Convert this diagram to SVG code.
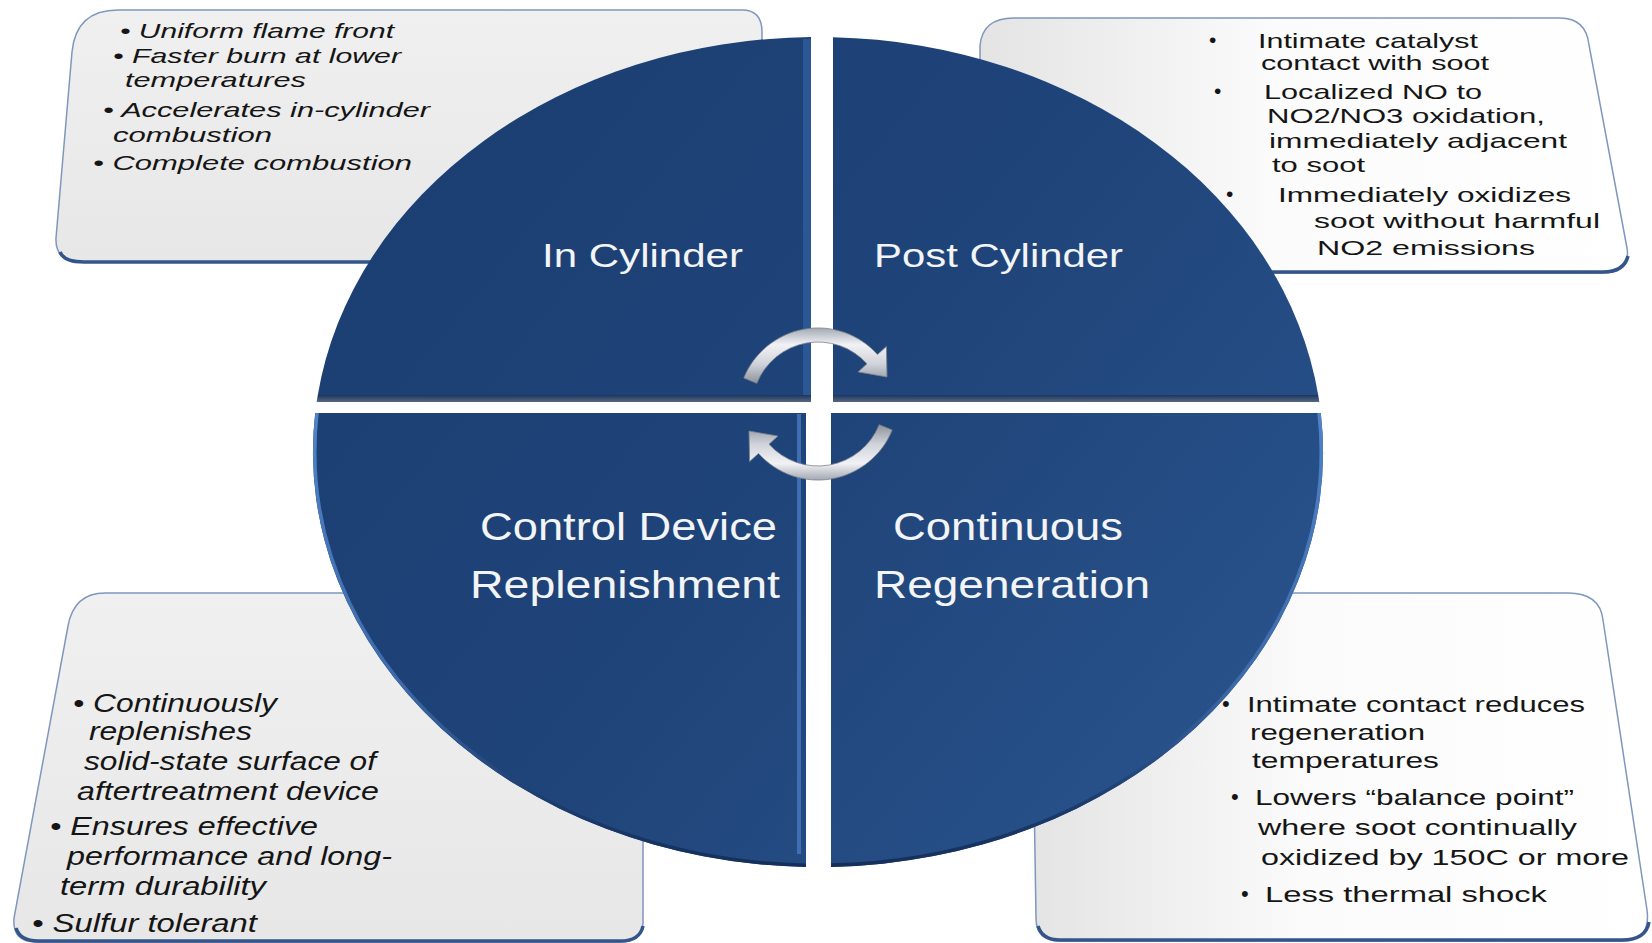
<svg xmlns="http://www.w3.org/2000/svg" width="1652" height="943" viewBox="0 0 1652 943">
  <style>
    .box-line { stroke: #7f97bd; stroke-width: 1.5; }
    .box-base { stroke: #34558a; stroke-width: 3.5; fill: none; }
    .note { font-family: "Liberation Sans", Arial, sans-serif; fill: #151515; }
    .note-i { font-family: "Liberation Sans", Arial, sans-serif; font-style: italic; fill: #151515; }
    .lbl { font-family: "Liberation Sans", Arial, sans-serif; fill: #f3f4f6; }
    .arrow { fill: url(#silver); stroke: #7c818c; stroke-width: 0.8; }
    .rim { fill: none; stroke: url(#rimShade); stroke-width: 7; }
  </style>
  <defs>
    <linearGradient id="grayBox" x1="0" y1="0" x2="0" y2="1">
      <stop offset="0" stop-color="#f0f0f0"/>
      <stop offset="1" stop-color="#e7e7e7"/>
    </linearGradient>
    <linearGradient id="whiteBox" x1="0" y1="0" x2="1" y2="0">
      <stop offset="0" stop-color="#e4e4e4"/>
      <stop offset="0.45" stop-color="#fbfbfb"/>
      <stop offset="1" stop-color="#ffffff"/>
    </linearGradient>
    <linearGradient id="disc" gradientUnits="userSpaceOnUse" x1="313" y1="37" x2="1323" y2="867">
      <stop offset="0" stop-color="#1b3d71"/>
      <stop offset="0.5" stop-color="#1f4479"/>
      <stop offset="1" stop-color="#2b5690"/>
    </linearGradient>
    <linearGradient id="strip" x1="0" y1="0" x2="0" y2="1">
      <stop offset="0" stop-color="#1a355f"/>
      <stop offset="1" stop-color="#5a6880"/>
    </linearGradient>
    <!-- rim of the lower half: light blue along the sides, dark at the bottom -->
    <linearGradient id="rimShade" gradientUnits="userSpaceOnUse" x1="0" y1="413" x2="0" y2="867">
      <stop offset="0" stop-color="#4f82c8"/>
      <stop offset="0.6" stop-color="#3d6aa8"/>
      <stop offset="0.85" stop-color="#1d3d6e"/>
      <stop offset="1" stop-color="#142f5a"/>
    </linearGradient>
    <linearGradient id="silver" x1="0" y1="0" x2="0" y2="1">
      <stop offset="0" stop-color="#a3a8b2"/>
      <stop offset="0.3" stop-color="#f1f2f5"/>
      <stop offset="0.65" stop-color="#d0d3da"/>
      <stop offset="1" stop-color="#8c919b"/>
    </linearGradient>
    <clipPath id="clipBL">
      <path d="M 806 413 L 315.2 413 A 505 415 0 0 0 806 866.9 Z"/>
    </clipPath>
    <clipPath id="clipBR">
      <path d="M 831 413 L 831 866.95 A 505 415 0 0 0 1320.8 413 Z"/>
    </clipPath>
  </defs>

  <rect width="1652" height="943" fill="#ffffff"/>

  <!-- note panels (drawn first, the disc overlaps them) -->
  <g id="note-in-cylinder">
    <path class="box-line" fill="url(#grayBox)" d="M 118 10 L 742 10 Q 762 10 762 32 L 762 262 L 82 262 Q 55 262 56 238 L 72 52 Q 76 10 118 10 Z"/>
    <path class="box-base" d="M 60 252 Q 64 262 84 262 L 762 262"/>
    <text class="note-i" font-size="21" x="120" y="38" textLength="274" lengthAdjust="spacingAndGlyphs">• Uniform flame front</text>
    <text class="note-i" font-size="21" x="113" y="63" textLength="288" lengthAdjust="spacingAndGlyphs">• Faster burn at lower</text>
    <text class="note-i" font-size="21" x="125" y="87" textLength="181" lengthAdjust="spacingAndGlyphs">temperatures</text>
    <text class="note-i" font-size="21" x="103" y="117" textLength="327" lengthAdjust="spacingAndGlyphs">• Accelerates in-cylinder</text>
    <text class="note-i" font-size="21" x="113" y="142" textLength="159" lengthAdjust="spacingAndGlyphs">combustion</text>
    <text class="note-i" font-size="21" x="93" y="170" textLength="319" lengthAdjust="spacingAndGlyphs">• Complete combustion</text>
  </g>

  <g id="note-post-cylinder">
    <path class="box-line" fill="url(#whiteBox)" d="M 1014 18 L 1560 18 Q 1586 18 1589 45 L 1627 248 Q 1631 273 1603 273 L 980 273 L 980 46 Q 982 18 1014 18 Z"/>
    <path class="box-base" d="M 980 272 L 1603 272 Q 1624 272 1628 256"/>
    <g class="note" font-size="21">
      <text x="1209" y="47">•</text>
      <text x="1258" y="48" textLength="220" lengthAdjust="spacingAndGlyphs">Intimate catalyst</text>
      <text x="1261" y="70" textLength="228" lengthAdjust="spacingAndGlyphs">contact with soot</text>
      <text x="1214" y="98">•</text>
      <text x="1264" y="99" textLength="218" lengthAdjust="spacingAndGlyphs">Localized NO to</text>
      <text x="1267" y="123" textLength="278" lengthAdjust="spacingAndGlyphs">NO2/NO3 oxidation,</text>
      <text x="1269" y="148" textLength="298" lengthAdjust="spacingAndGlyphs">immediately  adjacent</text>
      <text x="1272" y="172" textLength="93" lengthAdjust="spacingAndGlyphs">to soot</text>
      <text x="1226" y="201">•</text>
      <text x="1278" y="202" textLength="293" lengthAdjust="spacingAndGlyphs">Immediately oxidizes</text>
      <text x="1314" y="228" textLength="286" lengthAdjust="spacingAndGlyphs">soot without harmful</text>
      <text x="1317" y="255" textLength="218" lengthAdjust="spacingAndGlyphs">NO2 emissions</text>
    </g>
  </g>

  <g id="note-replenishment">
    <path class="box-line" fill="url(#grayBox)" d="M 105 593 L 643 593 L 643 922 Q 643 942 620 942 L 36 942 Q 12 942 14 918 L 68 626 Q 74 593 105 593 Z"/>
    <path class="box-base" d="M 16 928 Q 20 941 38 941 L 620 941 Q 640 941 643 926"/>
    <text class="note-i" font-size="25" x="73" y="712" textLength="204" lengthAdjust="spacingAndGlyphs">• Continuously</text>
    <text class="note-i" font-size="25" x="89" y="740" textLength="163" lengthAdjust="spacingAndGlyphs">replenishes</text>
    <text class="note-i" font-size="25" x="84" y="770" textLength="292" lengthAdjust="spacingAndGlyphs">solid-state surface of</text>
    <text class="note-i" font-size="25" x="77" y="800" textLength="302" lengthAdjust="spacingAndGlyphs">aftertreatment device</text>
    <text class="note-i" font-size="25" x="50" y="835" textLength="268" lengthAdjust="spacingAndGlyphs">• Ensures effective</text>
    <text class="note-i" font-size="25" x="67" y="865" textLength="325" lengthAdjust="spacingAndGlyphs">performance and long-</text>
    <text class="note-i" font-size="25" x="60" y="895" textLength="206" lengthAdjust="spacingAndGlyphs">term durability</text>
    <text class="note-i" font-size="25" x="32" y="932" textLength="225" lengthAdjust="spacingAndGlyphs">• Sulfur tolerant</text>
  </g>

  <g id="note-regeneration">
    <path class="box-line" fill="url(#whiteBox)" d="M 1040 593 L 1568 593 Q 1600 593 1603 620 L 1647 910 Q 1651 941 1622 941 L 1060 941 Q 1036 941 1036 918 L 1031 600 Z"/>
    <path class="box-base" d="M 1038 926 Q 1042 940 1060 940 L 1622 940 Q 1646 940 1649 922"/>
    <g class="note" font-size="22">
      <text x="1222" y="711">•</text>
      <text x="1247" y="712" textLength="338" lengthAdjust="spacingAndGlyphs">Intimate contact reduces</text>
      <text x="1250" y="740" textLength="175" lengthAdjust="spacingAndGlyphs">regeneration</text>
      <text x="1252" y="768" textLength="187" lengthAdjust="spacingAndGlyphs">temperatures</text>
      <text x="1231" y="804">•</text>
      <text x="1255" y="805" textLength="319" lengthAdjust="spacingAndGlyphs">Lowers “balance point”</text>
      <text x="1258" y="835" textLength="319" lengthAdjust="spacingAndGlyphs">where soot continually</text>
      <text x="1261" y="865" textLength="368" lengthAdjust="spacingAndGlyphs">oxidized by 150C or more</text>
      <text x="1241" y="901">•</text>
      <text x="1265" y="902" textLength="282" lengthAdjust="spacingAndGlyphs">Less thermal shock</text>
    </g>
  </g>

  <!-- disc quadrants -->
  <g id="q-in-cylinder">
    <path fill="url(#disc)" d="M 811 37 A 505 415 0 0 0 317.8 395 L 811 395 Z"/>
    <path fill="url(#strip)" d="M 317.8 395 L 811 395 L 811 402 L 316.7 402 Z"/>
    <rect x="803" y="39" width="8" height="356" fill="#2b5894"/>
    <text class="lbl" font-size="33" x="542" y="267" textLength="201" lengthAdjust="spacingAndGlyphs">In Cylinder</text>
  </g>

  <g id="q-post-cylinder">
    <path fill="url(#disc)" d="M 833 37.2 A 505 415 0 0 1 1318.2 395 L 833 395 Z"/>
    <path fill="url(#strip)" d="M 833 395 L 1318.2 395 L 1319.3 402 L 833 402 Z"/>
    <text class="lbl" font-size="33" x="874" y="267" textLength="249" lengthAdjust="spacingAndGlyphs">Post Cylinder</text>
  </g>

  <g id="q-replenishment">
    <path fill="url(#disc)" d="M 806 413 L 315.2 413 A 505 415 0 0 0 806 866.9 Z"/>
    <ellipse class="rim" cx="818" cy="452" rx="505" ry="415" clip-path="url(#clipBL)"/>
    <rect x="797" y="414" width="4" height="440" fill="#3f6fb2"/>
    <text class="lbl" font-size="39" x="480" y="540" textLength="297" lengthAdjust="spacingAndGlyphs">Control Device</text>
    <text class="lbl" font-size="39" x="470" y="598" textLength="310" lengthAdjust="spacingAndGlyphs">Replenishment</text>
  </g>

  <g id="q-regeneration">
    <path fill="url(#disc)" d="M 831 413 L 831 866.95 A 505 415 0 0 0 1320.8 413 Z"/>
    <ellipse class="rim" cx="818" cy="452" rx="505" ry="415" clip-path="url(#clipBR)"/>
    <text class="lbl" font-size="39" x="893" y="540" textLength="230" lengthAdjust="spacingAndGlyphs">Continuous</text>
    <text class="lbl" font-size="39" x="874" y="598" textLength="276" lengthAdjust="spacingAndGlyphs">Regeneration</text>
  </g>

  <!-- cycle arrows -->
  <g id="connectors">
    <path class="arrow" d="M 743.8 378 A 80 80 0 0 1 877.5 354.5 L 886.4 346.4 L 887 377 L 858.1 371.9 L 867 363.8 A 66 66 0 0 0 756.8 383.3 Z"/>
    <path class="arrow" transform="rotate(180 818 404)" d="M 743.8 378 A 80 80 0 0 1 877.5 354.5 L 886.4 346.4 L 887 377 L 858.1 371.9 L 867 363.8 A 66 66 0 0 0 756.8 383.3 Z"/>
  </g>
</svg>
